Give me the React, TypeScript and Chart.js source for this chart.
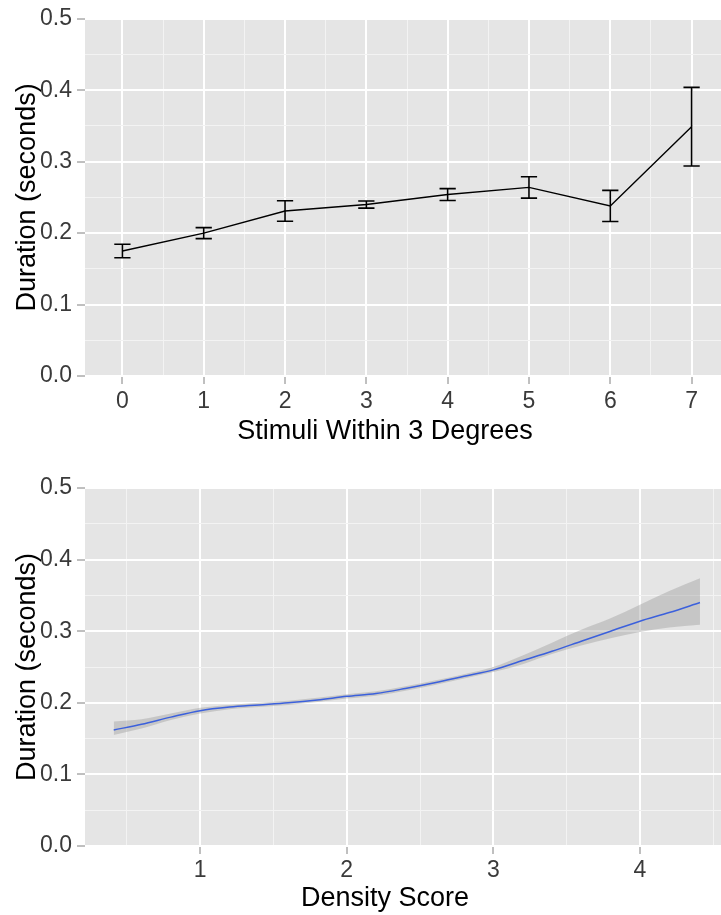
import React, { useEffect, useRef } from "react";
import { Chart, registerables } from "chart.js";

Chart.register(...registerables);

// Fixation duration by number of stimuli within 3 degrees (mean ± error)
const stimuliCounts = [0, 1, 2, 3, 4, 5, 6, 7];
const meanDuration = [0.175, 0.2, 0.231, 0.24, 0.254, 0.264, 0.238, 0.349];
const errorHalfWidth = [0.0095, 0.0077, 0.0143, 0.005, 0.0083, 0.015, 0.0218, 0.055];

// Smoothed duration by density score, with confidence band
const densityScore = [0.41, 0.6, 0.8, 1.0, 1.2, 1.4, 1.6, 1.8, 2.0, 2.2, 2.4, 2.6, 2.8, 3.0, 3.2, 3.4, 3.6, 3.8, 4.0, 4.2, 4.41];
const smoothFit = [0.162, 0.17, 0.18, 0.189, 0.194, 0.197, 0.2, 0.204, 0.209, 0.213, 0.22, 0.228, 0.237, 0.246, 0.259, 0.272, 0.286, 0.3, 0.314, 0.326, 0.34];
const bandLower = [0.155, 0.164, 0.176, 0.185, 0.191, 0.194, 0.197, 0.201, 0.206, 0.21, 0.217, 0.225, 0.234, 0.243, 0.254, 0.268, 0.28, 0.29, 0.299, 0.305, 0.309];
const bandUpper = [0.174, 0.177, 0.185, 0.193, 0.197, 0.2, 0.203, 0.207, 0.212, 0.216, 0.223, 0.231, 0.24, 0.25, 0.266, 0.284, 0.302, 0.318, 0.337, 0.356, 0.374];

// Axis ticks
const durationMajor = [0, 0.1, 0.2, 0.3, 0.4, 0.5];
const durationMinor = [0.05, 0.15, 0.25, 0.35, 0.45];
const stimuliMajor = [0, 1, 2, 3, 4, 5, 6, 7];
const stimuliMinor = [0.5, 1.5, 2.5, 3.5, 4.5, 5.5, 6.5];
const densityMajor = [1, 2, 3, 4];
const densityMinor = [0.5, 1.5, 2.5, 3.5, 4.5];

const yTitle = "Duration (seconds)";
const topXTitle = "Stimuli Within 3 Degrees";
const bottomXTitle = "Density Score";

const FONT = '"Liberation Sans", Arial, Helvetica, sans-serif';
const CANVAS_W = 729;

type TickSpec = { value: number; major: boolean };

function tickList(major: number[], minor: number[]): TickSpec[] {
  return [
    ...major.map((v) => ({ value: v, major: true })),
    ...minor.map((v) => ({ value: v, major: false })),
  ].sort((a, b) => a.value - b.value);
}

const panelBackground = {
  id: "panelBackground",
  beforeDraw(chart: any) {
    const { ctx, chartArea } = chart;
    ctx.save();
    ctx.fillStyle = "#e5e5e5";
    ctx.fillRect(chartArea.left, chartArea.top, chartArea.right - chartArea.left, chartArea.bottom - chartArea.top);
    ctx.restore();
  },
};

const axisTitles = {
  id: "axisTitles",
  afterDraw(chart: any, _args: any, opts: any) {
    const { ctx, chartArea } = chart;
    ctx.save();
    ctx.fillStyle = "#000000";
    ctx.font = `27px ${FONT}`;
    ctx.textAlign = "center";
    ctx.textBaseline = "alphabetic";
    ctx.fillText(opts.xText, opts.xCenter, opts.xBaseline);
    ctx.translate(opts.yBaseline, (chartArea.top + chartArea.bottom) / 2);
    ctx.rotate(-Math.PI / 2);
    ctx.fillText(opts.yText, 0, 0);
    ctx.restore();
  },
};

const errorBars = {
  id: "errorBars",
  afterDatasetsDraw(chart: any, _args: any, opts: any) {
    if (!opts || !opts.enabled) return;
    const { ctx } = chart;
    const x = chart.scales.x;
    const y = chart.scales.y;
    const capHalf = 0.1;
    ctx.save();
    ctx.strokeStyle = "#000000";
    ctx.lineWidth = 1.6;
    stimuliCounts.forEach((s, i) => {
      const px = x.getPixelForValue(s);
      const top = y.getPixelForValue(meanDuration[i] + errorHalfWidth[i]);
      const bot = y.getPixelForValue(meanDuration[i] - errorHalfWidth[i]);
      const l = x.getPixelForValue(s - capHalf);
      const r = x.getPixelForValue(s + capHalf);
      ctx.beginPath();
      ctx.moveTo(px, top);
      ctx.lineTo(px, bot);
      ctx.moveTo(l, top);
      ctx.lineTo(r, top);
      ctx.moveTo(l, bot);
      ctx.lineTo(r, bot);
      ctx.stroke();
    });
    ctx.restore();
  },
};

function gridOptions() {
  return {
    color: (c: any) => (c.tick && c.tick.major ? "#ffffff" : "#f3f3f3"),
    lineWidth: (c: any) => (c.tick && c.tick.major ? 2 : 1),
    tickColor: (c: any) => (c.tick && c.tick.major ? "#808080" : "rgba(0,0,0,0)"),
    tickWidth: 1,
    tickLength: 8,
    drawTicks: true,
    offset: false,
  };
}

function yScale() {
  return {
    type: "linear",
    min: 0,
    max: 0.5,
    afterBuildTicks: (s: any) => {
      s.ticks = tickList(durationMajor, durationMinor);
    },
    afterFit: (s: any) => {
      s.width = 85;
    },
    border: { display: false },
    grid: gridOptions(),
    ticks: {
      autoSkip: false,
      padding: 5,
      color: "#3a3a3a",
      font: { family: FONT, size: 23 },
      callback: (v: number, i: number, ticks: any[]) => (ticks[i].major ? v.toFixed(1) : ""),
    },
  };
}

function xScale(min: number, max: number, major: number[], minor: number[], axisHeight: number, pad: number) {
  return {
    type: "linear",
    min,
    max,
    afterBuildTicks: (s: any) => {
      s.ticks = tickList(major, minor);
    },
    afterFit: (s: any) => {
      s.height = axisHeight;
    },
    border: { display: false },
    grid: gridOptions(),
    ticks: {
      autoSkip: false,
      maxRotation: 0,
      padding: pad,
      color: "#3a3a3a",
      font: { family: FONT, size: 23 },
      callback: (v: number, i: number, ticks: any[]) => (ticks[i].major ? String(v) : ""),
    },
  };
}

export default function App() {
  const topRef = useRef<HTMLCanvasElement | null>(null);
  const bottomRef = useRef<HTMLCanvasElement | null>(null);

  useEffect(() => {
    const top = new Chart(topRef.current as HTMLCanvasElement, {
      type: "line",
      data: {
        datasets: [
          {
            data: stimuliCounts.map((s, i) => ({ x: s, y: meanDuration[i] })),
            borderColor: "#000000",
            borderWidth: 1.4,
            pointRadius: 0,
            tension: 0,
          },
        ],
      },
      options: {
        responsive: false,
        animation: false,
        devicePixelRatio: 1,
        events: [],
        layout: { padding: { top: 16, left: 0, right: 0, bottom: 0 } },
        plugins: {
          legend: { display: false },
          tooltip: { enabled: false },
          errorBars: { enabled: true },
          axisTitles: { xText: topXTitle, xCenter: 385, xBaseline: 439, yText: yTitle, yBaseline: 35 },
        } as any,
        scales: {
          x: xScale(-0.46, 7.46, stimuliMajor, stimuliMinor, 81, 4),
          y: yScale(),
        } as any,
      },
      plugins: [panelBackground, errorBars, axisTitles],
    });

    const bottom = new Chart(bottomRef.current as HTMLCanvasElement, {
      type: "line",
      data: {
        datasets: [
          {
            data: densityScore.map((d, i) => ({ x: d, y: bandLower[i] })),
            borderWidth: 0,
            borderColor: "rgba(0,0,0,0)",
            pointRadius: 0,
            tension: 0.4,
            cubicInterpolationMode: "monotone",
            fill: false,
            order: 2,
          },
          {
            data: densityScore.map((d, i) => ({ x: d, y: bandUpper[i] })),
            borderWidth: 0,
            borderColor: "rgba(0,0,0,0)",
            backgroundColor: "rgba(153,153,153,0.4)",
            pointRadius: 0,
            tension: 0.4,
            cubicInterpolationMode: "monotone",
            fill: "-1",
            order: 1,
          },
          {
            data: densityScore.map((d, i) => ({ x: d, y: smoothFit[i] })),
            borderColor: "#3b60dc",
            borderWidth: 1.5,
            pointRadius: 0,
            tension: 0.4,
            cubicInterpolationMode: "monotone",
            fill: false,
            order: 0,
          },
        ],
      },
      options: {
        responsive: false,
        animation: false,
        devicePixelRatio: 1,
        events: [],
        layout: { padding: { top: 31, left: 0, right: 0, bottom: 0 } },
        plugins: {
          legend: { display: false },
          tooltip: { enabled: false },
          axisTitles: { xText: bottomXTitle, xCenter: 385, xBaseline: 449, yText: yTitle, yBaseline: 35 },
        } as any,
        scales: {
          x: xScale(0.214, 4.608, densityMajor, densityMinor, 69, 2.5),
          y: yScale(),
        } as any,
      },
      plugins: [panelBackground, axisTitles],
    });

    return () => {
      top.destroy();
      bottom.destroy();
    };
  }, []);

  return (
    <div
      style={{
        position: "absolute",
        left: 0,
        top: 0,
        width: 721,
        height: 915,
        overflow: "hidden",
        background: "#ffffff",
      }}
    >
      <canvas ref={topRef} width={CANVAS_W} height={457} style={{ display: "block", width: CANVAS_W, height: 457 }} />
      <canvas ref={bottomRef} width={CANVAS_W} height={458} style={{ display: "block", width: CANVAS_W, height: 458 }} />
    </div>
  );
}
